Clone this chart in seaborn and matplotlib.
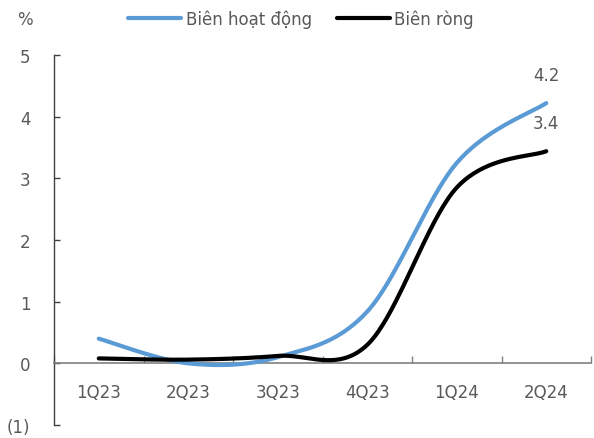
import numpy as np
import pandas as pd
import matplotlib
matplotlib.use("Agg")
import matplotlib.pyplot as plt
import seaborn as sns

quarters = ["1Q23", "2Q23", "3Q23", "4Q23", "1Q24", "2Q24"]
bien_hoat_dong = [0.40, 0.00, 0.10, 0.84, 3.25, 4.22]
bien_rong = [0.08, 0.06, 0.12, 0.30, 2.85, 3.44]
series_names = ["Biên hoạt động", "Biên ròng"]
series_colors = ["#5B9BD5", "#000000"]
yticks = [-1, 0, 1, 2, 3, 4, 5]
ytick_labels = ["(1)", "0", "1", "2", "3", "4", "5"]

TEXT = "#595959"


def smooth_curve(values, steps=40):
    """Cubic Bezier smoothing through the points (Catmull-Rom style tangents)."""
    y = np.asarray(values, dtype=float)
    x = np.arange(len(y), dtype=float)
    n = len(y)
    xs, ys = [], []
    for i in range(n - 1):
        p_prev = i - 1 if i > 0 else i
        p_next = i + 2 if i + 2 < n else i + 1
        c1x = x[i] + (x[i + 1] - x[p_prev]) / 6
        c1y = y[i] + (y[i + 1] - y[p_prev]) / 6
        c2x = x[i + 1] - (x[p_next] - x[i]) / 6
        c2y = y[i + 1] - (y[p_next] - y[i]) / 6
        t = np.linspace(0, 1, steps, endpoint=(i == n - 2))
        a = (1 - t) ** 3
        b = 3 * (1 - t) ** 2 * t
        c = 3 * (1 - t) * t ** 2
        d = t ** 3
        xs.append(a * x[i] + b * c1x + c * c2x + d * x[i + 1])
        ys.append(a * y[i] + b * c1y + c * c2y + d * y[i + 1])
    return np.concatenate(xs), np.concatenate(ys)


sns.set_style("white")
plt.rcParams["font.family"] = ["DejaVu Sans"]

fig = plt.figure(figsize=(5.94, 4.39), dpi=100)
ax = fig.add_axes([54 / 594, 1 - 426 / 439, (591 - 54) / 594, (426 - 56) / 439])

frames = []
for name, vals in zip(series_names, [bien_hoat_dong, bien_rong]):
    sx, sy = smooth_curve(vals)
    frames.append(pd.DataFrame({"x": sx, "y": sy, "series": name}))
curves = pd.concat(frames, ignore_index=True)

sns.lineplot(data=curves, x="x", y="y", hue="series", palette=series_colors,
             hue_order=series_names, linewidth=3.0, sort=False,
             estimator=None, ax=ax, legend=False, zorder=3)
for line in ax.get_lines():
    line.set_solid_capstyle("round")

# value labels at the last quarter
for vals in [bien_hoat_dong, bien_rong]:
    ax.annotate(f"{vals[-1]:.1f}", (len(vals) - 1, vals[-1]),
                xytext=(0, 20), textcoords="offset points",
                ha="center", va="center", fontsize=12, color=TEXT)

ax.set_xlim(-0.5, len(quarters) - 0.5)
ax.set_ylim(-1, 5)

ax.set_yticks(yticks)
ax.set_yticklabels(ytick_labels)
ax.set_xticks(np.arange(len(quarters) + 1) - 0.5)
ax.set_xticklabels([])
ax.set_xticks(np.arange(len(quarters)), minor=True)
ax.set_xticklabels(quarters, minor=True)

for s in ["top", "right"]:
    ax.spines[s].set_visible(False)
ax.spines["bottom"].set_position(("data", 0))
ax.spines["bottom"].set_color("#808080")
ax.spines["bottom"].set_linewidth(1.2)
ax.spines["left"].set_color("#404040")
ax.spines["left"].set_linewidth(1.0)

ax.tick_params(axis="y", direction="in", length=4, width=1, color="#404040",
               labelsize=12, labelcolor=TEXT, pad=17, left=True)
ax.tick_params(axis="x", which="major", direction="in", length=5, width=1,
               color="#808080", bottom=True)
ax.tick_params(axis="x", which="minor", length=0, labelsize=12,
               labelcolor=TEXT, pad=14)
ax.set_xlabel("")
ax.set_ylabel("")

fig.text(25 / 594, 1 - 20 / 439, "%", ha="center", va="center",
         fontsize=12, color=TEXT)

handles = [plt.Line2D([], [], color=c, linewidth=3.0, solid_capstyle="round")
           for c in series_colors]
fig.legend(handles, series_names, loc="center", ncol=2, frameon=False,
           bbox_to_anchor=(301 / 594, 1 - 20 / 439), fontsize=12,
           labelcolor=TEXT, handlelength=3.2, handletextpad=0.25,
           columnspacing=1.5)

fig.savefig("out.png", dpi=100)
